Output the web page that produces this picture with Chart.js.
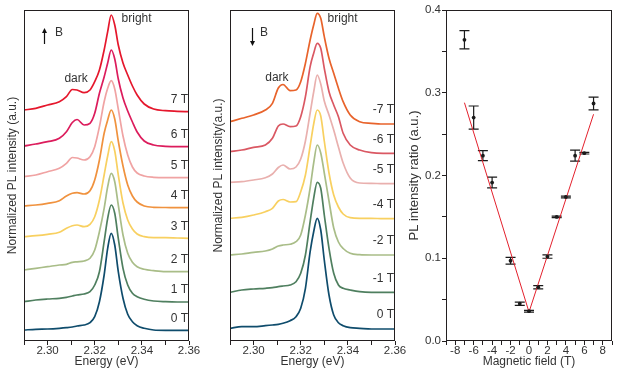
<!DOCTYPE html>
<html>
<head>
<meta charset="utf-8">
<script src="https://cdn.jsdelivr.net/npm/chart.js@4.4.1/dist/chart.umd.min.js"></script>
<style>
  html, body { margin: 0; padding: 0; background: #fff; }
  #wrap { position: relative; width: 621px; height: 372px; }
  #wrap canvas { position: absolute; left: 0; top: 0; }
</style>
</head>
<body>
<div id="wrap">
  <canvas id="cUp" width="621" height="372"></canvas>
  <canvas id="cDown" width="621" height="372"></canvas>
  <canvas id="cRatio" width="621" height="372"></canvas>
</div>
<script>
// ---- data -------------------------------------------------------------
// energy grid (eV) shared by all spectra
const energy = [2.290, 2.295, 2.300, 2.305, 2.308, 2.3105, 2.3125, 2.3155, 2.318, 2.320,
                2.322, 2.324, 2.3255, 2.327, 2.3285, 2.330, 2.332, 2.334, 2.336, 2.338,
                2.341, 2.345, 2.350, 2.355, 2.360];

// B up, stacked spectra (a.u., offset included)
const up0T = [11, 11.7, 12, 12.7, 13.3, 14, 15, 16, 18.3, 24.3, 39.3, 66, 92.7, 107.7, 96, 69.3, 42.7, 26.7, 19.3, 15.3, 12.7, 11, 10.7, 10.7, 10.7];
const up1T = [39.3, 41, 42, 42.7, 43.7, 45, 46, 47, 49.3, 56, 69.3, 99.3, 122.7, 136, 127.7, 102.7, 72.7, 56, 47.7, 44.3, 41.7, 40, 39.3, 39, 39];
const up2T = [71, 72.7, 74.3, 76, 76.7, 78.7, 79.2, 80, 82.7, 91, 109.3, 132.7, 154.3, 167.7, 159.3, 136, 106, 87.7, 78.7, 74.3, 71.7, 70.3, 69.3, 69.3, 69.3];
const up3T = [104.3, 105.3, 106.7, 108.7, 112.7, 115.3, 116, 114.3, 116.7, 124.3, 141, 166, 185, 199.3, 190, 166, 138, 121, 112, 107, 104.3, 103.3, 103.3, 103, 102.7];
const up4T = [135, 136, 137.7, 140.3, 145, 147.7, 148.3, 147, 150.3, 161, 181, 207.7, 221, 231, 222, 200, 175, 156, 145, 139, 135, 133.7, 133.5, 133.3, 133.3];
const up5T = [164.3, 166, 169.3, 172.7, 177.7, 183.5, 183, 181, 184.3, 194.3, 214.3, 239.3, 252.7, 260.3, 252, 232, 205, 186, 174, 168, 165, 163.7, 163.3, 163.3, 163.3];
const up6T = [195, 197, 199.3, 202.7, 209.3, 218.5, 221.5, 216, 217.7, 227.7, 247.7, 264, 278, 291, 282, 262, 243, 230, 219, 209, 200, 196, 194.7, 194.3, 194.3];
const up7T = [231, 232.7, 236, 239.3, 244.3, 251.5, 251, 248.3, 251, 259.3, 271, 291, 309.3, 326, 316, 296, 278, 266, 255, 246, 237, 232, 230.3, 229.7, 229.3];

// B down
const down0T  = [12.7, 14.3, 14.3, 15.3, 16, 16.7, 17.7, 20.3, 24.3, 32.7, 52.7, 89.3, 109.3, 122.7, 111, 81, 46, 26, 18.3, 15.3, 13.3, 12.7, 12, 12, 12];
const downM1T = [48.7, 51, 52, 52.7, 53.3, 54.3, 55, 56, 59.3, 67.7, 86, 119.3, 142.7, 158.7, 152.7, 126, 92.7, 67.7, 56, 52.7, 51, 49.3, 48.7, 48.7, 48.7];
const downM2T = [86, 87, 88.7, 90, 92, 95, 96, 96.7, 99.3, 106, 126, 153, 178, 196, 188, 168, 140, 113, 99, 92.5, 87.7, 86.3, 86, 86, 86];
const downM4T = [122.7, 123.7, 126, 129.3, 132.7, 140, 141.5, 139, 139.3, 149.3, 166, 195, 217, 231, 225, 200, 168, 146, 134, 127, 123.3, 122.7, 122.7, 122.3, 122.3];
const downM5T = [158.7, 159.3, 161, 163.3, 167, 173.5, 176, 172, 174, 182, 200, 228, 249, 266, 257, 240, 226, 211, 194, 178, 163, 158, 157.7, 157.3, 157.3];
const downM6T = [189.3, 191, 193.7, 196, 202.7, 215, 217, 214.3, 215, 224.3, 244.3, 274.3, 287.7, 297.7, 292.7, 272.7, 249.3, 236, 224.3, 207.7, 196, 191, 188.3, 187.7, 187.7];
const downM7T = [219.3, 222.7, 226, 231, 237.7, 253, 256.5, 250.3, 251, 259.3, 277.7, 301, 316, 327.7, 322.7, 304.3, 282.7, 267.7, 252.7, 239.3, 226, 219.3, 217.7, 217, 217];

const upLabels   = ['0 T', '1 T', '2 T', '3 T', '4 T', '5 T', '6 T', '7 T'];
const upSpectra  = [up0T, up1T, up2T, up3T, up4T, up5T, up6T, up7T];
const downLabels = ['0 T', '-1 T', '-2 T', '-4 T', '-5 T', '-6 T', '-7 T'];
const downSpectra = [down0T, downM1T, downM2T, downM4T, downM5T, downM6T, downM7T];

// PL intensity ratio vs magnetic field
const fieldB   = [-7, -6, -5, -4, -2, -1, 0, 1, 2, 3, 4, 5, 6, 7];
const ratio    = [0.364, 0.270, 0.224, 0.1915, 0.097, 0.045, 0.036, 0.065, 0.102, 0.150, 0.174, 0.224, 0.227, 0.287];
const ratioErr = [0.011, 0.014, 0.006, 0.0065, 0.004, 0.002, 0.001, 0.002, 0.002, 0.001, 0.001, 0.0066, 0.001, 0.0077];
const fitLeftB  = [-7, 0];
const fitLeft   = [0.288, 0.035];
const fitRightB = [0, 7];
const fitRight  = [0.035, 0.274];

// ---- styles -----------------------------------------------------------
const upColors   = ['#0f4c6c', '#4f7f5f', '#a9bd88', '#f8d060', '#f0923e', '#f0a3a3', '#dc1c5c', '#e5172c'];
const downColors = ['#0f4c6c', '#4f7f5f', '#a9bd88', '#f8d060', '#e9b0ae', '#da5863', '#e8632b'];
const INK = '#231f20';
const TXT = '#333333';

Chart.defaults.font.family = "'Liberation Sans', Arial, sans-serif";
Chart.defaults.color = TXT;

// box around plot area
const framePlugin = {
  id: 'frame',
  afterDraw(chart) {
    const a = chart.chartArea, ctx = chart.ctx;
    ctx.save();
    ctx.strokeStyle = INK;
    ctx.lineWidth = 1;
    ctx.strokeRect(Math.round(a.left) + 0.5, Math.round(a.top) + 0.5,
                   Math.round(a.right - a.left) - 1, Math.round(a.bottom - a.top) - 1);
    ctx.restore();
  }
};

// field labels at the right end of each spectrum
const fieldLabelPlugin = {
  id: 'fieldLabels',
  afterDatasetsDraw(chart, args, opts) {
    const ctx = chart.ctx, ys = chart.scales.y, a = chart.chartArea;
    ctx.save();
    ctx.font = '12px ' + Chart.defaults.font.family;
    ctx.fillStyle = TXT;
    ctx.textAlign = 'right';
    ctx.textBaseline = 'middle';
    chart.data.datasets.forEach(ds => {
      const last = ds.data[ds.data.length - 1].y;
      ctx.fillText(ds.label, a.right - 1, ys.getPixelForValue(last) - opts.lift);
    });
    ctx.restore();
  }
};

// "bright", "dark", arrow + B
const notesPlugin = {
  id: 'notes',
  afterDatasetsDraw(chart, args, opts) {
    const ctx = chart.ctx, xs = chart.scales.x, ys = chart.scales.y;
    ctx.save();
    ctx.font = '12px ' + Chart.defaults.font.family;
    ctx.fillStyle = TXT;
    ctx.textBaseline = 'middle';
    opts.texts.forEach(t => {
      ctx.textAlign = t.align || 'left';
      ctx.fillText(t.text, xs.getPixelForValue(t.x), ys.getPixelForValue(t.y));
    });
    const ar = opts.arrow;
    const px = Math.round(xs.getPixelForValue(ar.x)) + 0.5;
    const y0 = ys.getPixelForValue(ar.from), y1 = ys.getPixelForValue(ar.to);
    const dir = y1 < y0 ? 1 : -1;
    ctx.strokeStyle = '#111';
    ctx.fillStyle = '#111';
    ctx.lineWidth = 1.2;
    ctx.beginPath();
    ctx.moveTo(px, y0);
    ctx.lineTo(px, y1 + dir * 4);
    ctx.stroke();
    ctx.beginPath();
    ctx.moveTo(px, y1);
    ctx.lineTo(px - 2.5, y1 + dir * 5);
    ctx.lineTo(px + 2.5, y1 + dir * 5);
    ctx.closePath();
    ctx.fill();
    ctx.restore();
  }
};

function spectrumChart(canvasId, labels, spectra, colors, padLeft, padRight, yTitle, notes, lift) {
  const datasets = spectra.map((s, i) => ({
    label: labels[i],
    data: energy.map((e, k) => ({ x: e, y: s[k] })),
    borderColor: colors[i],
    borderWidth: 1.7,
    pointRadius: 0,
    cubicInterpolationMode: 'monotone',
    fill: false
  }));
  return new Chart(document.getElementById(canvasId), {
    type: 'line',
    data: { datasets },
    options: {
      responsive: false,
      animation: false,
      events: [],
      layout: { padding: { left: padLeft, right: padRight, top: 10, bottom: 0 } },
      plugins: {
        legend: { display: false },
        tooltip: { enabled: false },
        fieldLabels: { lift: lift },
        notes: notes
      },
      scales: {
        x: {
          type: 'linear', min: 2.29, max: 2.36,
          afterFit: s => { s.height = 31; },
          ticks: {
            stepSize: 0.01, autoSkip: false, maxRotation: 0, padding: -1,
            font: { size: 11.5 }, color: TXT,
            callback: v => Math.round(v * 100) % 2 === 0 ? v.toFixed(2) : ''
          },
          grid: { drawOnChartArea: false, tickLength: 4, color: INK },
          border: { display: false },
          title: { display: true, text: 'Energy (eV)', font: { size: 12 }, color: TXT,
                   padding: { top: 0, bottom: 3 } }
        },
        y: {
          type: 'linear', min: 0, max: 331,
          afterFit: s => { s.width = 24; },
          ticks: { display: false },
          grid: { display: false },
          border: { display: false },
          title: { display: true, text: yTitle, font: { size: 12 }, color: TXT,
                   padding: { top: 5, bottom: 0 } }
        }
      }
    },
    plugins: [framePlugin, fieldLabelPlugin, notesPlugin]
  });
}

spectrumChart('cUp', upLabels, upSpectra, upColors, 0, 432,
  'Normalized PL intensity (a.u.)',
  {
    texts: [
      { text: 'bright', x: 2.3314, y: 322.7 },
      { text: 'dark', x: 2.3121, y: 262, align: 'center' },
      { text: 'B', x: 2.3032, y: 308 }
    ],
    arrow: { x: 2.2986, from: 297, to: 313 }
  }, 12);

spectrumChart('cDown', downLabels, downSpectra, downColors, 206, 226,
  'Normalized PL intensity(a.u.)',
  {
    texts: [
      { text: 'bright', x: 2.3314, y: 322.7 },
      { text: 'dark', x: 2.3099, y: 263.7, align: 'center' },
      { text: 'B', x: 2.3027, y: 308 }
    ],
    arrow: { x: 2.2995, from: 313, to: 295 }
  }, 14);

// error bars for the ratio panel
const errorBarPlugin = {
  id: 'errorBars',
  beforeDatasetsDraw(chart) {
    const ctx = chart.ctx, xs = chart.scales.x, ys = chart.scales.y;
    ctx.save();
    ctx.strokeStyle = '#1a1a1a';
    ctx.lineWidth = 1.2;
    fieldB.forEach((b, i) => {
      const px = xs.getPixelForValue(b);
      const yt = ys.getPixelForValue(ratio[i] + ratioErr[i]);
      const yb = ys.getPixelForValue(ratio[i] - ratioErr[i]);
      ctx.beginPath();
      ctx.moveTo(px, yt); ctx.lineTo(px, yb);
      ctx.moveTo(px - 5, yt); ctx.lineTo(px + 5, yt);
      ctx.moveTo(px - 5, yb); ctx.lineTo(px + 5, yb);
      ctx.stroke();
    });
    ctx.restore();
  }
};

new Chart(document.getElementById('cRatio'), {
  type: 'scatter',
  data: {
    datasets: [
      {
        data: fieldB.map((b, i) => ({ x: b, y: ratio[i] })),
        pointRadius: 1.9, pointBackgroundColor: '#1a1a1a', pointBorderWidth: 0
      },
      {
        type: 'line',
        data: fitLeftB.map((b, i) => ({ x: b, y: fitLeft[i] })),
        borderColor: '#e3202c', borderWidth: 1, pointRadius: 0
      },
      {
        type: 'line',
        data: fitRightB.map((b, i) => ({ x: b, y: fitRight[i] })),
        borderColor: '#e3202c', borderWidth: 1, pointRadius: 0
      }
    ]
  },
  options: {
    responsive: false,
    animation: false,
    events: [],
    layout: { padding: { left: 406, right: 9, top: 10, bottom: 0 } },
    plugins: { legend: { display: false }, tooltip: { enabled: false } },
    scales: {
      x: {
        type: 'linear', min: -9, max: 9,
        afterFit: s => { s.height = 31; },
        ticks: {
          stepSize: 1, autoSkip: false, maxRotation: 0, padding: -1,
          font: { size: 11.5 }, color: TXT,
          callback: v => (Math.round(v) % 2 === 0 && Math.abs(v) < 9) ? String(v) : ''
        },
        grid: { drawOnChartArea: false, tickLength: 4, color: INK },
        border: { display: false },
        title: { display: true, text: 'Magnetic field (T)', font: { size: 12 }, color: TXT,
                 padding: { top: 0, bottom: 3 } }
      },
      y: {
        type: 'linear', min: 0, max: 0.4,
        afterFit: s => { s.width = 40; },
        ticks: {
          stepSize: 0.05, autoSkip: false, padding: 1,
          font: { size: 11.5 }, color: TXT,
          callback: v => Math.round(v * 100) % 10 === 0 ? v.toFixed(1) : ''
        },
        grid: { drawOnChartArea: false, tickLength: 4, color: INK },
        border: { display: false },
        title: { display: true, text: 'PL intensity ratio (a.u.)', font: { size: 13 }, color: TXT,
                 padding: { top: 1, bottom: 0 } }
      }
    }
  },
  plugins: [framePlugin, errorBarPlugin]
});
</script>
</body>
</html>
